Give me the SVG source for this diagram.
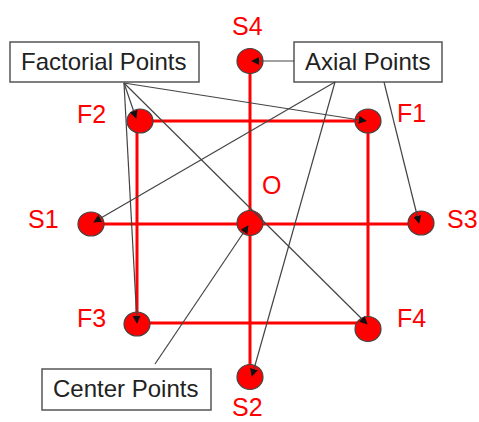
<svg xmlns="http://www.w3.org/2000/svg" width="479" height="422" viewBox="0 0 479 422">
<style>
.box{fill:#fff;stroke:#555;stroke-width:1.5}
.btxt{font-family:"Liberation Sans",Arial,sans-serif;font-size:24px;fill:#222}
.lbl{font-family:"Liberation Sans",Arial,sans-serif;font-size:25px;fill:#ff0000}
.pt{fill:#ff0000;stroke:#444;stroke-width:1.2}
.red{stroke:#ff0000;stroke-width:3;fill:none}
.conn{stroke:#444;stroke-width:1.2;fill:none;marker-end:url(#ah)}
</style>
<defs>
<marker id="ah" viewBox="0 0 10 10" refX="9" refY="5" markerWidth="8" markerHeight="8" markerUnits="userSpaceOnUse" orient="auto">
<path d="M0,0 L10,5 L0,10 Z" fill="#111"/>
</marker>
</defs>
<rect width="479" height="422" fill="#fff"/>
<g id="grid">
<line class="red" x1="140" y1="121" x2="368" y2="121"/>
<line class="red" x1="137" y1="121" x2="137" y2="324"/>
<line class="red" x1="368" y1="121" x2="368" y2="329"/>
<line class="red" x1="137" y1="323" x2="368" y2="323"/>
<line class="red" x1="250" y1="61" x2="250" y2="377"/>
<line class="red" x1="91" y1="224" x2="421" y2="224"/>
</g>
<g id="node-F2"><ellipse class="pt" cx="140" cy="121" rx="13" ry="12"/><text class="lbl" x="77" y="123">F2</text></g>
<g id="node-F1"><ellipse class="pt" cx="368" cy="121" rx="13" ry="12"/><text class="lbl" x="397" y="122">F1</text></g>
<g id="node-F3"><ellipse class="pt" cx="137" cy="324" rx="13" ry="12"/><text class="lbl" x="77" y="327">F3</text></g>
<g id="node-F4"><ellipse class="pt" cx="368" cy="329" rx="13" ry="12.5"/><text class="lbl" x="397" y="327">F4</text></g>
<g id="node-S4"><ellipse class="pt" cx="250" cy="61" rx="13" ry="12.5"/><text class="lbl" x="232" y="35">S4</text></g>
<g id="node-S1"><ellipse class="pt" cx="91" cy="224" rx="13" ry="12"/><text class="lbl" x="28" y="228">S1</text></g>
<g id="node-S3"><ellipse class="pt" cx="421" cy="223" rx="13" ry="12"/><text class="lbl" x="447" y="228">S3</text></g>
<g id="node-S2"><ellipse class="pt" cx="250" cy="377" rx="13" ry="12.5"/><text class="lbl" x="232" y="416">S2</text></g>
<g id="node-O"><ellipse class="pt" cx="250" cy="223" rx="13" ry="12.5"/><text class="lbl" x="262" y="194">O</text></g>
<g id="node-factorial"><rect class="box" x="10" y="42" width="189" height="40"/><text class="btxt" x="21" y="70">Factorial Points</text></g>
<g id="node-axial"><rect class="box" x="294" y="42" width="148" height="40"/><text class="btxt" x="305" y="70">Axial Points</text></g>
<g id="node-center"><rect class="box" x="42" y="369" width="169" height="41"/><text class="btxt" x="53" y="397">Center Points</text></g>
<g id="connectors">
<line class="conn" x1="124" y1="83" x2="136" y2="118"/>
<line class="conn" x1="124" y1="83" x2="366" y2="121"/>
<line class="conn" x1="124" y1="83" x2="137" y2="323"/>
<line class="conn" x1="124" y1="83" x2="367" y2="324"/>
<line class="conn" x1="294" y1="61" x2="252" y2="61"/>
<line class="conn" x1="335" y1="82" x2="94" y2="222"/>
<line class="conn" x1="335" y1="82" x2="252" y2="376"/>
<line class="conn" x1="384" y1="82" x2="419" y2="223"/>
<line class="conn" x1="155" y1="364" x2="248" y2="226"/>
</g>
</svg>
